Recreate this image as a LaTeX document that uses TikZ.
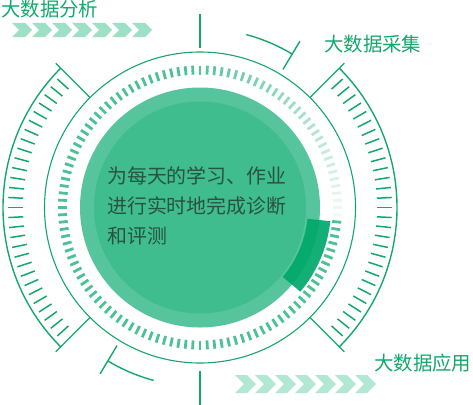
\documentclass[tikz,border=0pt]{standalone}
\usepackage{fontspec}
\setmainfont{Noto Sans CJK SC}
\usetikzlibrary{calc}
\definecolor{ringgreen}{RGB}{18,168,108}
\definecolor{discouter}{RGB}{86,196,156}
\definecolor{discinner}{RGB}{64,189,143}
\definecolor{dashgreen}{RGB}{76,193,150}
\definecolor{accent}{RGB}{0,168,106}
\definecolor{bodytext}{RGB}{40,82,68}
\definecolor{chevtop}{RGB}{158,224,198}
\definecolor{chevbot}{RGB}{178,232,211}
\tikzset{
  thinring/.style={draw=ringgreen, line width=1.1pt},
  scaleline/.style={draw=ringgreen, line width=1.4pt},
  tickmark/.style={draw=ringgreen, line width=1.5pt},
  lbl/.style={font=\fontsize{19.5}{20}\selectfont, text=ringgreen, inner sep=0pt, anchor=base west},
}

\begin{document}
\begin{tikzpicture}[x=1bp,y=1bp,
  body/.style={font=\fontsize{20}{30.5}\selectfont, text=bodytext, align=left, inner sep=0pt},
  dashmark/.style={line width=2.8pt},
]
\useasboundingbox (0,0) rectangle (473,404);
\coordinate (ctr) at (200,196.5);

% ===================== CHEVRON BANDS =====================
\foreach \i in {0,...,6}
  \fill[chevtop] ($(12,381)+(20*\i,0)$) -- ++(13,0) -- ++(7,-7) -- ++(-7,-7)
    -- ++(-13,0) -- ++(7,7) -- cycle;
\foreach \i in {0,...,6}
  \fill[chevbot] ($(235,29)+(20*\i,0)$) -- ++(12,0) -- ++(9,-9) -- ++(-9,-9)
    -- ++(-12,0) -- ++(9,9) -- cycle;

% ===================== DIAL =====================
\begin{scope}[shift={(ctr)}]
  \fill[discouter] (0,0) circle[radius=120];
  \fill[discinner] (0,0) circle[radius=106];
  \fill[accent, opacity=0.92] (-40:108) arc[start angle=-40, end angle=-6, radius=108]
    -- (-6:131) arc[start angle=-6, end angle=-40, radius=131] -- cycle;

  % dashed ring, fading towards the accent
  \foreach \a in {-3,0,...,354} {
    \pgfmathsetmacro\dashmix{min(100,100-0.9388*(95-\a))}
    \draw[dashmark, draw=dashgreen!\dashmix!white] (\a:133) -- (\a:142);
  }
  \draw[thinring] (0,0) circle[radius=155.5];

  % outer scales left and right
  \foreach \s in {0,180} {
    \draw[scaleline] (\s-45:197) arc[start angle=\s-45, end angle=\s+45, radius=197];
    \draw[scaleline] (\s-45:155.5) -- (\s-45:204);
    \draw[scaleline] (\s+45:155.5) -- (\s+45:204);
    \foreach \t in {-42,-39,...,42}
      \draw[tickmark] (\s+\t:177) -- (\s+\t:192);
  }

  % short brackets
  \foreach \s in {0,180} {
    \draw[scaleline] (\s+59:179) arc[start angle=\s+59, end angle=\s+75, radius=179];
    \draw[scaleline] (\s+59:161) -- (\s+59:194);
  }
  \draw[scaleline] (90:160) -- (90:193);
  \draw[scaleline] (270:163) -- (270:210);
\end{scope}

% ===================== LABELS =====================
\node[lbl] (analysis) at (1,387.5) {大数据分析};
\node[lbl] (collect) at (324,352.5) {大数据采集};
\node[lbl] (apply) at (374,34) {大数据应用};
\node[body, anchor=north west] (summary) at (107,238)
  {为每天的学习、作业\\进行实时地完成诊断\\和评测};

\end{tikzpicture}
\end{document}
